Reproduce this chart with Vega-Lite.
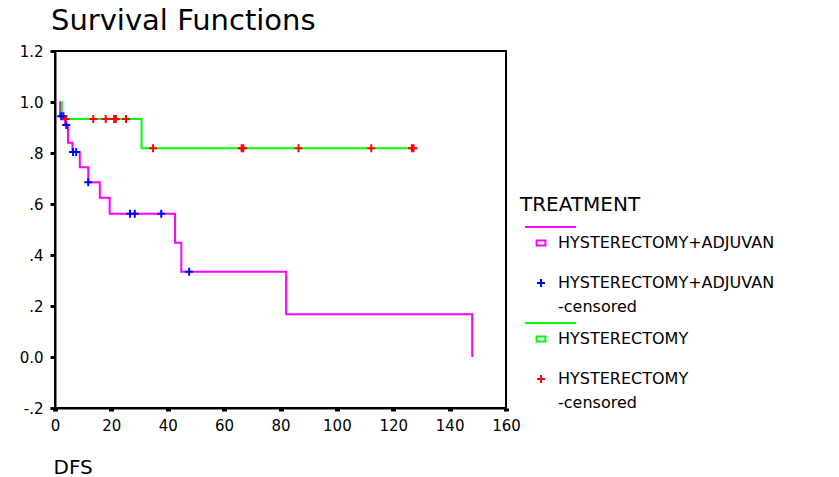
{
  "$schema": "https://vega.github.io/schema/vega-lite/v6.json",
  "width": 451,
  "height": 357,
  "autosize": {"type": "none"},
  "padding": {"left": 55, "top": 51, "right": 333, "bottom": 69},
  "background": "white",
  "title": {"text": "Survival Functions", "anchor": "start", "frame": "group", "font": "DejaVu Sans", "fontSize": 29, "fontWeight": "normal", "color": "black", "offset": 8, "dx": -4},
  "datasets": {
    "steps": [
      {"t": 1.7, "s": 1.0, "series": "HYSTERECTOMY+ADJUVAN"},
      {"t": 1.8, "s": 0.944, "series": "HYSTERECTOMY+ADJUVAN"},
      {"t": 3.6, "s": 0.91, "series": "HYSTERECTOMY+ADJUVAN"},
      {"t": 4.6, "s": 0.84, "series": "HYSTERECTOMY+ADJUVAN"},
      {"t": 6.2, "s": 0.804, "series": "HYSTERECTOMY+ADJUVAN"},
      {"t": 8.8, "s": 0.744, "series": "HYSTERECTOMY+ADJUVAN"},
      {"t": 11.8, "s": 0.685, "series": "HYSTERECTOMY+ADJUVAN"},
      {"t": 15.9, "s": 0.625, "series": "HYSTERECTOMY+ADJUVAN"},
      {"t": 19.4, "s": 0.562, "series": "HYSTERECTOMY+ADJUVAN"},
      {"t": 42.6, "s": 0.448, "series": "HYSTERECTOMY+ADJUVAN"},
      {"t": 44.8, "s": 0.334, "series": "HYSTERECTOMY+ADJUVAN"},
      {"t": 82.0, "s": 0.168, "series": "HYSTERECTOMY+ADJUVAN"},
      {"t": 148.0, "s": 0.0, "series": "HYSTERECTOMY+ADJUVAN"},
      {"t": 2.3, "s": 1.0, "series": "HYSTERECTOMY"},
      {"t": 2.4, "s": 0.933, "series": "HYSTERECTOMY"},
      {"t": 30.7, "s": 0.819, "series": "HYSTERECTOMY"},
      {"t": 127.4, "s": 0.819, "series": "HYSTERECTOMY"}
    ],
    "censored": [
      {"t": 2.2, "s": 0.944, "series": "HYSTERECTOMY+ADJUVAN -censored"},
      {"t": 3.0, "s": 0.944, "series": "HYSTERECTOMY+ADJUVAN -censored"},
      {"t": 4.0, "s": 0.91, "series": "HYSTERECTOMY+ADJUVAN -censored"},
      {"t": 6.4, "s": 0.804, "series": "HYSTERECTOMY+ADJUVAN -censored"},
      {"t": 7.5, "s": 0.804, "series": "HYSTERECTOMY+ADJUVAN -censored"},
      {"t": 11.8, "s": 0.685, "series": "HYSTERECTOMY+ADJUVAN -censored"},
      {"t": 26.6, "s": 0.562, "series": "HYSTERECTOMY+ADJUVAN -censored"},
      {"t": 28.3, "s": 0.562, "series": "HYSTERECTOMY+ADJUVAN -censored"},
      {"t": 37.7, "s": 0.562, "series": "HYSTERECTOMY+ADJUVAN -censored"},
      {"t": 47.6, "s": 0.334, "series": "HYSTERECTOMY+ADJUVAN -censored"},
      {"t": 3.8, "s": 0.933, "series": "HYSTERECTOMY -censored"},
      {"t": 13.6, "s": 0.933, "series": "HYSTERECTOMY -censored"},
      {"t": 18.0, "s": 0.933, "series": "HYSTERECTOMY -censored"},
      {"t": 21.0, "s": 0.933, "series": "HYSTERECTOMY -censored"},
      {"t": 21.6, "s": 0.933, "series": "HYSTERECTOMY -censored"},
      {"t": 25.2, "s": 0.933, "series": "HYSTERECTOMY -censored"},
      {"t": 34.8, "s": 0.819, "series": "HYSTERECTOMY -censored"},
      {"t": 66.2, "s": 0.819, "series": "HYSTERECTOMY -censored"},
      {"t": 66.8, "s": 0.819, "series": "HYSTERECTOMY -censored"},
      {"t": 86.4, "s": 0.819, "series": "HYSTERECTOMY -censored"},
      {"t": 112.2, "s": 0.819, "series": "HYSTERECTOMY -censored"},
      {"t": 126.6, "s": 0.819, "series": "HYSTERECTOMY -censored"},
      {"t": 127.2, "s": 0.819, "series": "HYSTERECTOMY -censored"}
    ]
  },
  "encoding": {
    "x": {
      "field": "t", "type": "quantitative", "title": "DFS",
      "scale": {"domain": [0, 160], "nice": false, "zero": false},
      "axis": {"values": [0, 20, 40, 60, 80, 100, 120, 140, 160], "grid": false, "tickSize": 3, "tickWidth": 5, "labelPadding": 7, "labelDx": -2, "labelFlush": false,
        "titleAnchor": "start", "titleAlign": "left", "titleX": -2, "titleY": 65, "titleBaseline": "alphabetic", "titleFontSize": 20}
    },
    "y": {
      "field": "s", "type": "quantitative", "title": null,
      "scale": {"domain": [-0.2, 1.2], "nice": false, "zero": false},
      "axis": {"values": [-0.2, 0, 0.2, 0.4, 0.6, 0.8, 1.0, 1.2], "grid": false, "tickSize": 5, "tickWidth": 3, "labelPadding": 7, "labelFlush": false,
        "labelExpr": "datum.value == 0 ? '0.0' : datum.value < 0 ? '-.2' : replace(format(datum.value, '.1f'), '0.', '.')"}
    }
  },
  "layer": [
    {
      "data": {"name": "steps"},
      "mark": {"type": "line", "interpolate": "step-after", "strokeWidth": 2},
      "encoding": {
        "stroke": {
          "field": "series", "type": "nominal", "legend": null,
          "scale": {
            "domain": ["HYSTERECTOMY+ADJUVAN", "HYSTERECTOMY"],
            "range": ["#FF00FF", "#00FF00"]
          }
        }
      }
    },
    {
      "data": {"name": "censored"},
      "mark": {"type": "point", "filled": false, "strokeWidth": 2, "size": 64, "opacity": 1},
      "encoding": {
        "color": {
          "field": "series", "type": "nominal",
          "scale": {
            "domain": ["_line1", "HYSTERECTOMY+ADJUVAN", "HYSTERECTOMY+ADJUVAN -censored", "_line2", "HYSTERECTOMY", "HYSTERECTOMY -censored"],
            "range": ["#FF00FF", "#FF00FF", "#0000FF", "#00FF00", "#00FF00", "#FF0000"]
          },
          "legend": {
            "title": "TREATMENT", "orient": "none", "legendX": 465, "legendY": 144,
            "titleFont": "DejaVu Sans", "titleFontSize": 20, "titleFontWeight": "normal", "titleColor": "black", "titlePadding": 4,
            "labelFont": "DejaVu Sans", "labelFontSize": 16, "labelColor": "black", "labelLimit": 400,
            "symbolSize": 64, "symbolStrokeWidth": 2, "symbolOffset": 13, "labelOffset": 9, "rowPadding": 0,
            "labelExpr": "slice(datum.value, 0, 1) == '_' ? '' : indexof(datum.value, ' -censored') >= 0 ? [replace(datum.value, ' -censored', ''), '-censored'] : [datum.value, '']"
          }
        },
        "shape": {
          "field": "series", "type": "nominal",
          "scale": {
            "domain": ["_line1", "HYSTERECTOMY+ADJUVAN", "HYSTERECTOMY+ADJUVAN -censored", "_line2", "HYSTERECTOMY", "HYSTERECTOMY -censored"],
            "range": ["M-4,0H8.75", "M-1.1,-0.65H1.1V0.65H-1.1Z", "M-1,0H1M0,-1V1", "M-4,0H8.75", "M-1.1,-0.65H1.1V0.65H-1.1Z", "M-1,0H1M0,-1V1"]
          }
        }
      }
    }
  ],
  "config": {
    "view": {"stroke": "black", "strokeWidth": 2},
    "axis": {
      "domainColor": "black", "domainWidth": 2, "tickColor": "black",
      "labelFont": "DejaVu Sans", "labelFontSize": 15, "labelColor": "black",
      "titleFont": "DejaVu Sans", "titleFontWeight": "normal", "titleColor": "black"
    },
    "style": {"guide-label": {"lineHeight": 24}}
  }
}
